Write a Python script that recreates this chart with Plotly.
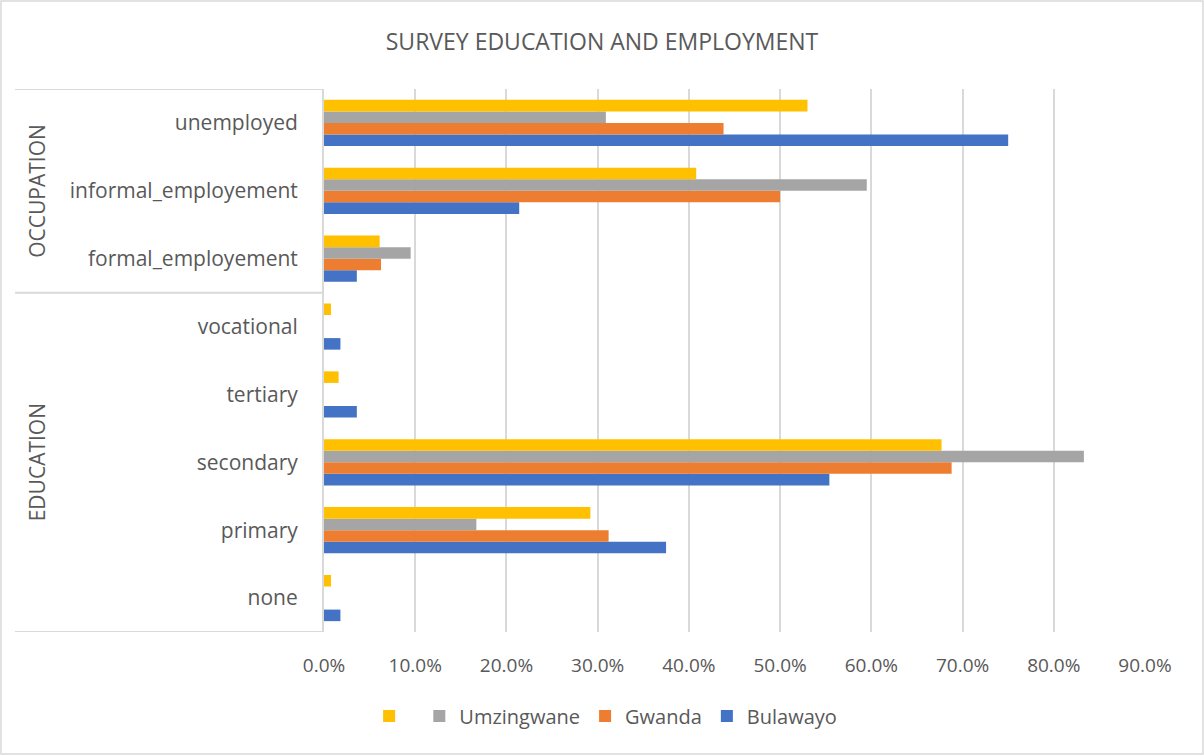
import plotly.graph_objects as go

categories = ["none", "primary", "secondary", "tertiary", "vocational",
              "formal_employement", "informal_employement", "unemployed"]
groups = ["EDUCATION", "OCCUPATION"]
group_spans = [(0, 4), (5, 7)]

bulawayo   = [0.018, 0.375, 0.554, 0.036, 0.018, 0.036, 0.214, 0.750]
gwanda     = [0.0,   0.312, 0.688, 0.0,   0.0,   0.0625, 0.500, 0.438]
umzingwane = [0.0,   0.167, 0.833, 0.0,   0.0,   0.095, 0.595, 0.309]
unnamed    = [0.0077, 0.292, 0.677, 0.016, 0.0077, 0.061, 0.408, 0.530]

series = [("Bulawayo", bulawayo, "#4472C4"),
          ("Gwanda", gwanda, "#ED7D31"),
          ("Umzingwane", umzingwane, "#A5A5A5"),
          (" ", unnamed, "#FFC000")]

tick_vals = [0, 0.1, 0.2, 0.3, 0.4, 0.5, 0.6, 0.7, 0.8, 0.9]
tick_text = ["0.0%", "10.0%", "20.0%", "30.0%", "40.0%", "50.0%",
             "60.0%", "70.0%", "80.0%", "90.0%"]

FONT = "Open Sans"
TXT = "#595959"
GRID = "#D9D9D9"

fig = go.Figure()
for name, vals, col in series:
    fig.add_trace(go.Bar(y=categories, x=vals, name=name, orientation="h",
                         marker=dict(color=col, line=dict(width=0))))

W, H = 1204, 755
L, R, T, B = 324, 1145, 89, 632
pw = R - L
ph = B - T

fig.update_layout(
    width=W, height=H,
    margin=dict(l=L, r=W - R, t=T, b=H - B),
    paper_bgcolor="white", plot_bgcolor="white",
    barmode="group", bargap=0.32, bargroupgap=0,
    font=dict(family=FONT, color=TXT),
    title=dict(text="SURVEY EDUCATION AND EMPLOYMENT", x=0.5, xref="container",
               y=1 - 42 / H, yref="container", xanchor="center", yanchor="middle",
               font=dict(size=23, color=TXT, family=FONT)),
    legend=dict(orientation="h", xref="container", yref="container",
                x=0.503, y=1 - 716 / H, xanchor="center", yanchor="middle",
                traceorder="reversed", font=dict(size=20, color=TXT),
                itemwidth=30),
    showlegend=True,
)
fig.update_xaxes(range=[0, 0.9], tickvals=tick_vals, ticktext=tick_text,
                 showgrid=True, gridcolor=GRID, gridwidth=2, zeroline=False,
                 showline=False, tickfont=dict(size=19, color=TXT),
                 ticks="", ticklabelstandoff=20)
fig.update_yaxes(type="category", categoryorder="array", categoryarray=categories,
                 range=[-0.5, len(categories) - 0.5],
                 showline=True, linecolor=GRID, linewidth=2, showgrid=False,
                 tickfont=dict(size=21, color=TXT), ticks="",
                 ticklabelstandoff=20)

x_left = (15 - L) / pw
# horizontal frame lines of the multi-level category axis
for yv in [-0.5, 4.5, 7.5]:
    fig.add_shape(type="line", xref="paper", yref="y", x0=x_left, x1=0,
                  y0=yv, y1=yv, line=dict(color=GRID, width=2))
# group labels
for g, (a, b) in zip(groups, group_spans):
    fig.add_annotation(text=g, xref="paper", yref="y", x=(21 - L) / pw,
                       y=(a + b) / 2, textangle=-90, showarrow=False,
                       font=dict(size=21, color=TXT, family=FONT))
# chart border
fig.add_shape(type="rect", xref="paper", yref="paper",
              x0=(1 - L) / pw, x1=(1203 - L) / pw,
              y0=(B - 754) / ph, y1=(B - 1) / ph,
              line=dict(color=GRID, width=1.5), layer="below")

fig.write_html("out.html")
